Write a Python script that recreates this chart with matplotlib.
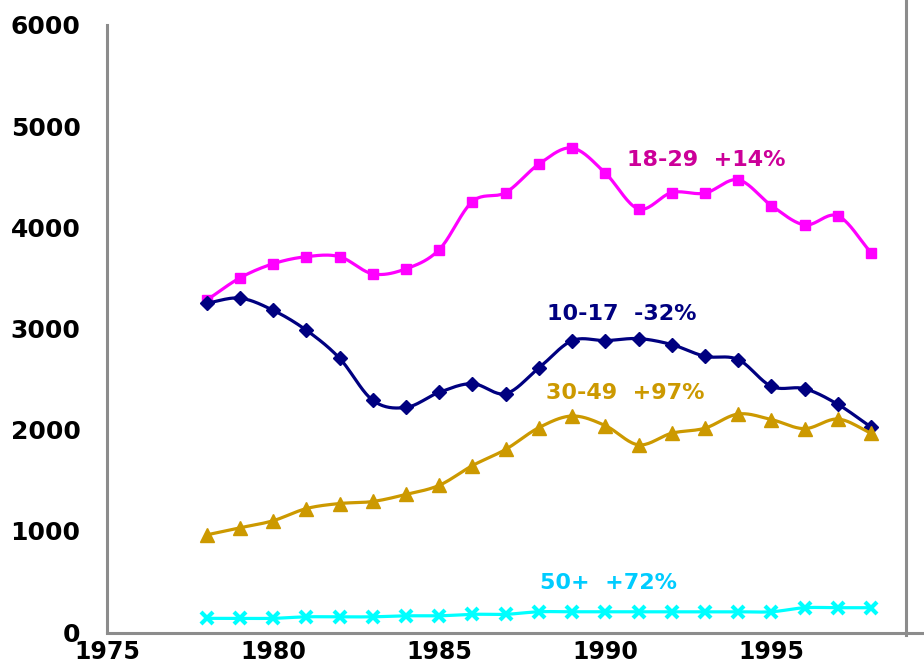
import numpy as np
import matplotlib
matplotlib.use('Agg')
import matplotlib.pyplot as plt
from matplotlib.lines import Line2D

# Data
years = list(range(1978, 1999))
age_18_29 = [3280, 3500, 3640, 3710, 3710, 3540, 3590, 3780, 4255, 4344, 4625,
             4784, 4536, 4182, 4344, 4338, 4470, 4215, 4024, 4113, 3749]
age_10_17 = [3250, 3300, 3180, 2983, 2706, 2290, 2220, 2369, 2455, 2356, 2610,
             2880, 2880, 2900, 2841, 2725, 2693, 2428, 2405, 2250, 2025]
age_30_49 = [960, 1030, 1100, 1220, 1270, 1290, 1360, 1450, 1645, 1805, 2020,
             2135, 2040, 1850, 1965, 2015, 2155, 2100, 2010, 2105, 1965]
age_50_up = [135, 135, 135, 150, 150, 150, 160, 160, 175, 175, 200,
             200, 200, 200, 200, 200, 200, 200, 240, 240, 240]

series_labels = ['18-29  +14%', '10-17  -32%', '30-49  +97%', '50+  +72%']
x_ticks = [1975, 1980, 1985, 1990, 1995]
y_ticks = [0, 1000, 2000, 3000, 4000, 5000, 6000]


def smooth(x, y, n=20):
    # Catmull-Rom spline through the points, like Excel's smoothed line
    x = np.asarray(x, float)
    y = np.asarray(y, float)
    px = np.concatenate([[2 * x[0] - x[1]], x, [2 * x[-1] - x[-2]]])
    py = np.concatenate([[2 * y[0] - y[1]], y, [2 * y[-1] - y[-2]]])
    xs, ys = [], []
    t = np.linspace(0, 1, n, endpoint=False)
    for i in range(1, len(px) - 2):
        for arr, out in ((px, xs), (py, ys)):
            p0, p1, p2, p3 = arr[i - 1], arr[i], arr[i + 1], arr[i + 2]
            out.extend(0.5 * ((2 * p1) + (-p0 + p2) * t
                              + (2 * p0 - 5 * p1 + 4 * p2 - p3) * t ** 2
                              + (-p0 + 3 * p1 - 3 * p2 + p3) * t ** 3))
    xs.append(x[-1])
    ys.append(y[-1])
    return np.array(xs), np.array(ys)


fig = plt.figure(figsize=(9.24, 6.64), dpi=100)
ax = fig.add_axes([107 / 924, 1 - 632 / 664, (906 - 107) / 924, (632 - 25) / 664])

styles = [
    (age_18_29, '#FF00FF', 's', 7.5, dict()),
    (age_10_17, '#000080', 'D', 7.5, dict()),
    (age_30_49, '#CC9900', '^', 10, dict()),
    (age_50_up, '#00FFFF', 'x', 9, dict(markeredgewidth=3)),
]
for vals, col, mk, ms, extra in styles:
    sx, sy = smooth(years, vals)
    ax.plot(sx, sy, color=col, lw=2.3, solid_capstyle='round')
    ax.plot(years, vals, linestyle='none', marker=mk, markersize=ms,
            color=col, markeredgecolor=col, **extra)

# Series labels
label_font = dict(fontsize=16, fontweight='bold', ha='center', va='center')
ax.text(1993.05, 4670, series_labels[0], color='#CC0099', **label_font)
ax.text(1990.5, 3140, series_labels[1], color='#000080', **label_font)
ax.text(1990.6, 2360, series_labels[2], color='#CC9900', **label_font)
ax.text(1990.1, 485, series_labels[3], color='#00CCFF', **label_font)

ax.set_xlim(1975, 1999.05)
ax.set_ylim(0, 6000)
ax.set_xticks(x_ticks)
ax.set_yticks(y_ticks)
ax.tick_params(length=0, labelsize=18)
ax.tick_params(axis='y', pad=19)
ax.tick_params(axis='x', pad=6, labelsize=17)
for lab in ax.get_xticklabels() + ax.get_yticklabels():
    lab.set_fontweight('bold')

for s in ['top', 'right', 'bottom']:
    ax.spines[s].set_visible(False)
ax.spines['left'].set_color('#8C8C8C')
ax.spines['left'].set_linewidth(2.2)

# frame lines of the plot area that run past the axes
fig.add_artist(Line2D([107 / 924, 1], [1 - 633 / 664, 1 - 633 / 664],
                      color='#8C8C8C', lw=2.2, transform=fig.transFigure))
fig.add_artist(Line2D([906 / 924, 906 / 924], [1 - 635 / 664, 1],
                      color='#8C8C8C', lw=2.2, transform=fig.transFigure))

fig.savefig('out.png', dpi=100)
